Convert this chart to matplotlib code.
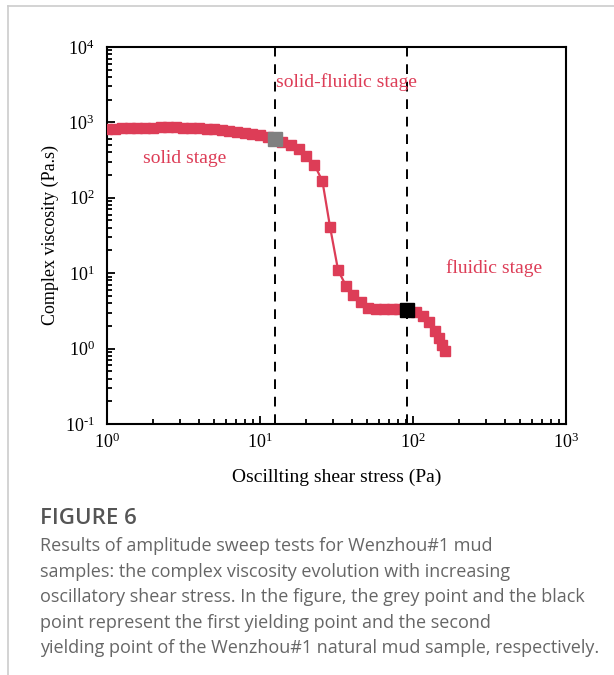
import matplotlib
matplotlib.use("Agg")
import math
import matplotlib.pyplot as plt
from matplotlib.lines import Line2D
from matplotlib.ticker import LogLocator, NullFormatter, FuncFormatter

plt.rcParams["font.family"] = ["Liberation Serif", "DejaVu Serif"]
plt.rcParams["mathtext.fontset"] = "custom"
plt.rcParams["mathtext.rm"] = "Liberation Serif"
plt.rcParams["mathtext.it"] = "Liberation Serif:italic"
plt.rcParams["axes.unicode_minus"] = False

# Amplitude sweep: oscillatory shear stress (Pa) vs complex viscosity (Pa.s)
stress = [1.00, 1.12, 1.26, 1.41, 1.58, 1.78, 2.00, 2.24, 2.51, 2.82, 3.16,
          3.55, 3.98, 4.47, 5.01, 5.62, 6.31, 7.08, 7.94, 8.91, 10.0, 11.2,
          12.5, 14.0, 15.9, 17.9, 20.1, 22.7, 25.6, 28.7, 32.4, 36.5, 40.5,
          45.5, 51.0, 57.0, 65.0, 73.0, 81.0, 92.0, 104.0, 116.0, 127.0,
          139.0, 148.0, 155.0, 163.0]
viscosity = [820, 825, 830, 836, 842, 848, 853, 858, 862, 860, 855,
             848, 838, 826, 812, 795, 776, 755, 730, 705, 678, 640,
             595, 548, 494, 442, 361, 275, 165, 41.0, 10.9, 6.8, 5.2,
             4.2, 3.5, 3.3, 3.3, 3.35, 3.35, 3.25, 3.1, 2.67, 2.22,
             1.72, 1.38, 1.12, 0.92]

first_yield = (12.5, 595)
second_yield = (92.0, 3.25)
stage_bounds = [first_yield[0], second_yield[0]]
stage_labels = ["solid stage", "solid-fluidic stage", "fluidic stage"]
stage_label_pos = [(3.2, 330), (36.5, 3400), (340, 11.8)]

red = "#dd3d57"


def pow10_label(v, pos):
    e = int(round(math.log10(v)))
    if e < 0:
        return r"$10^{\text{-}%d}$" % (-e)
    return r"$10^{%d}$" % e


fig = plt.figure(figsize=(6.14, 6.75), dpi=100)
ax = fig.add_axes([0.1743, 0.3719, 0.7475, 0.5585])

ax.plot(stress, viscosity, color=red, lw=1.6, marker="s", ms=6.5,
        mec=red, mfc=red, zorder=3)
ax.plot(*first_yield, marker="s", ms=10, color="#808080", zorder=4)
ax.plot(*second_yield, marker="s", ms=10, color="black", zorder=4)

for xb in stage_bounds:
    ax.axvline(xb, color="black", lw=1.4, ls=(0, (5, 4)), zorder=2)

for txt, (tx, ty) in zip(stage_labels, stage_label_pos):
    ax.text(tx, ty, txt, color=red, fontsize=14, ha="center", va="center")

ax.set_xscale("log")
ax.set_yscale("log")
ax.set_xlim(1, 1000)
ax.set_ylim(0.1, 10000)

ax.xaxis.set_major_locator(LogLocator(base=10, numticks=10))
ax.yaxis.set_major_locator(LogLocator(base=10, numticks=10))
ax.xaxis.set_minor_locator(LogLocator(base=10, subs=range(2, 10), numticks=20))
ax.yaxis.set_minor_locator(LogLocator(base=10, subs=range(2, 10), numticks=20))
ax.xaxis.set_major_formatter(FuncFormatter(pow10_label))
ax.yaxis.set_major_formatter(FuncFormatter(pow10_label))
ax.xaxis.set_minor_formatter(NullFormatter())
ax.yaxis.set_minor_formatter(NullFormatter())

ax.tick_params(which="both", direction="in", top=False, right=False,
               labelsize=13, width=1.3)
ax.tick_params(which="major", length=6)
ax.tick_params(which="minor", length=3.5)
ax.tick_params(axis="x", pad=6)
ax.tick_params(axis="y", pad=9)
for s in ax.spines.values():
    s.set_linewidth(1.5)

ax.set_xlabel("Oscillting shear stress (Pa)", fontsize=14, labelpad=12)
ax.set_ylabel("Complex viscosity (Pa.s)", fontsize=13, labelpad=4)

# Panel frame
fig.add_artist(Line2D([8 / 614, 8 / 614], [0, 1 - 6 / 675],
                      transform=fig.transFigure, color="#cccccc", lw=1.2))
fig.add_artist(Line2D([8 / 614, 1], [1 - 6 / 675, 1 - 6 / 675],
                      transform=fig.transFigure, color="#cccccc", lw=1.2))

# Caption
cap_font = ["Open Sans", "DejaVu Sans"]
fig.text(40 / 614, 1 - 519 / 675, "FIGURE 6", family=cap_font,
         fontsize=16, color="#555555", weight="semibold", va="center")
caption = [
    "Results of amplitude sweep tests for Wenzhou#1 mud",
    "samples: the complex viscosity evolution with increasing",
    "oscillatory shear stress. In the figure, the grey point and the black",
    "point represent the first yielding point and the second",
    "yielding point of the Wenzhou#1 natural mud sample, respectively.",
]
for i, line in enumerate(caption):
    fig.text(40 / 614, 1 - (546 + 25.6 * i) / 675, line, family=cap_font,
             fontsize=13, color="#666666", va="center")

fig.savefig("out.png", dpi=100)
